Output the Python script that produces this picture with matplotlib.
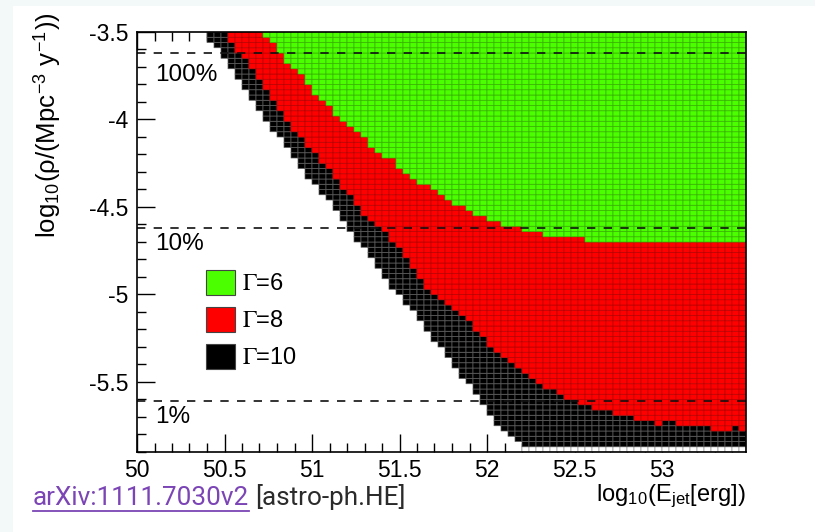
import matplotlib
matplotlib.use('Agg')
import matplotlib.pyplot as plt
import numpy as np
from matplotlib.colors import ListedColormap
from matplotlib.patches import Patch, Rectangle
from matplotlib.lines import Line2D
from matplotlib.ticker import MultipleLocator

plt.rcParams['font.family'] = ['Liberation Sans', 'DejaVu Sans']
plt.rcParams['mathtext.fontset'] = 'stix'

N = np.nan
# histogram binning: log10(E_jet) columns and log10(rho) rows
E_LO, E_HI, N_E = 50.0, 53.48, 87
R_LO, R_HI, N_R = -5.9, -3.5, 80

# lowest excluded log10(rho) per log10(E_jet) column, one list per Lorentz factor
gamma10_limit = [N, N, N, N, N, N, N, N, N, N,
                 -3.56, -3.59, -3.65, -3.71, -3.77, -3.83, -3.89, -3.95, -4.01, -4.07,
                 -4.10, -4.16, -4.22, -4.28, -4.34, -4.37, -4.43, -4.46, -4.52, -4.58,
                 -4.64, -4.70, -4.73, -4.79, -4.85, -4.91, -4.97, -5.00, -5.06, -5.09,
                 -5.15, -5.21, -5.27, -5.30, -5.36, -5.42, -5.48, -5.51, -5.57, -5.63,
                 -5.69, -5.75, -5.78, -5.81, -5.84,
                 -5.87, -5.87, -5.87, -5.87, -5.87, -5.87, -5.87, -5.87, -5.87, -5.87,
                 -5.87, -5.87, -5.87, -5.87, -5.87, -5.87, -5.87, -5.87, -5.87, -5.87,
                 -5.87, -5.87, -5.87, -5.87, -5.87, -5.87, -5.87, -5.87, -5.87, -5.87,
                 -5.87, -5.87]
gamma8_limit = [N, N, N, N, N, N, N, N, N, N, N, N, N,
                -3.56, -3.62, -3.65, -3.71, -3.77, -3.83, -3.89, -3.95, -4.01, -4.07,
                -4.10, -4.16, -4.19, -4.25, -4.28, -4.34, -4.40, -4.43, -4.49, -4.55,
                -4.58, -4.61, -4.64, -4.70, -4.73, -4.79, -4.85, -4.91, -4.97, -5.00,
                -5.03, -5.06, -5.09, -5.12, -5.15, -5.21, -5.24, -5.30, -5.33, -5.36,
                -5.39, -5.42, -5.45, -5.48, -5.51, -5.54, -5.54, -5.57, -5.60, -5.60,
                -5.63, -5.63, -5.66, -5.66, -5.66, -5.69, -5.69, -5.69, -5.72, -5.72,
                -5.72, -5.75, -5.72, -5.72, -5.75, -5.75, -5.75, -5.75, -5.75, -5.78,
                -5.78, -5.78, -5.75, -5.78]
gamma6_limit = [N, N, N, N, N, N, N, N, N, N, N, N, N, N, N, N, N, N,
                -3.53, -3.56, -3.62, -3.68, -3.71, -3.74, -3.80, -3.86, -3.89, -3.92,
                -3.98, -4.01, -4.04, -4.07, -4.10, -4.16, -4.19, -4.22, -4.22, -4.28,
                -4.31, -4.34, -4.37, -4.37, -4.40, -4.43, -4.46, -4.49, -4.49, -4.52,
                -4.55, -4.55, -4.58, -4.58, -4.61, -4.61, -4.61, -4.64, -4.64, -4.64,
                -4.67, -4.67, -4.67, -4.67, -4.67, -4.67,
                -4.70, -4.70, -4.70, -4.70, -4.70, -4.70, -4.70, -4.70, -4.70, -4.70,
                -4.70, -4.70, -4.70, -4.70, -4.70, -4.70, -4.70, -4.70, -4.70, -4.70,
                -4.70, -4.70, -4.70]

legend_labels = [r'$\Gamma$=6', r'$\Gamma$=8', r'$\Gamma$=10']
fraction_levels = [-3.62, -4.62, -5.61]
fraction_labels = ['100%', '10%', '1%']
fraction_label_y = [-3.745, -4.71, -5.70]
x_ticks = [50, 50.5, 51, 51.5, 52, 52.5, 53]
x_ticklabels = ['50', '50.5', '51', '51.5', '52', '52.5', '53']
y_ticks = [-5.5, -5, -4.5, -4, -3.5]
y_ticklabels = ['-5.5', '-5', '-4.5', '-4', '-3.5']

C_GREEN, C_RED, C_BLACK = '#4cff00', '#ff0000', '#000000'

fig = plt.figure(figsize=(8.15, 5.32), dpi=100)
# screenshot tint strips
fig.patches.append(Rectangle((0, 0), 13 / 815, 1, transform=fig.transFigure,
                             facecolor='#f3f8f9', edgecolor='none', zorder=0))
fig.patches.append(Rectangle((0, 1 - 6 / 532), 1, 6 / 532, transform=fig.transFigure,
                             facecolor='#f3f8f9', edgecolor='none', zorder=0))

ax = fig.add_axes([137 / 815, 80 / 532, 609 / 815, 420 / 532])

xe = np.linspace(E_LO, E_HI, N_E + 1)
ye = np.linspace(R_LO, R_HI, N_R + 1)
ylo = ye[:-1]
g10 = np.array(gamma10_limit)
g8 = np.array(gamma8_limit)
g6 = np.array(gamma6_limit)

Z = np.zeros((N_R, N_E), dtype=int)
for k in range(N_E):
    col = np.zeros(N_R, dtype=int)
    if not np.isnan(g10[k]):
        col[ylo >= g10[k] - 1e-6] = 1
    if not np.isnan(g8[k]):
        col[ylo >= g8[k] - 1e-6] = 2
    if not np.isnan(g6[k]):
        col[ylo >= g6[k] - 1e-6] = 3
    if not np.isnan(g10[k]) and g10[k] <= R_LO + (R_HI - R_LO) / N_R + 1e-6:
        col[0] = 4
    Z[:, k] = col

layers = [(4, '#ffffff', '#9a9a9a'), (1, C_BLACK, '#5e5e5e'),
          (2, C_RED, '#b80000'), (3, C_GREEN, '#36b000')]
for lev, fc, ec in layers:
    Zm = np.ma.masked_where(Z != lev, np.ones_like(Z, dtype=float))
    ax.pcolor(xe, ye, Zm, cmap=ListedColormap([fc]), vmin=0, vmax=2,
              edgecolors=ec, linewidths=0.5, zorder=1)

for lvl, lab, ly in zip(fraction_levels, fraction_labels, fraction_label_y):
    ax.axhline(lvl, color='#111111', lw=1.2, dashes=(5, 5), zorder=3)
    ax.text(50.103, ly, lab, fontsize=17.5, va='center', ha='left', zorder=3)

ax.set_xlim(E_LO, E_HI)
ax.set_ylim(R_LO, R_HI)
ax.set_xticks(x_ticks)
ax.set_xticklabels(x_ticklabels)
ax.set_yticks(y_ticks)
ax.set_yticklabels(y_ticklabels)
ax.xaxis.set_minor_locator(MultipleLocator(0.1))
ax.yaxis.set_minor_locator(MultipleLocator(0.1))
ax.tick_params(which='both', direction='in', top=True, right=False, width=1.0,
               labelsize=16.5)
ax.tick_params(which='major', length=13)
ax.tick_params(which='minor', length=6.5)
ax.tick_params(axis='x', pad=5)
ax.tick_params(axis='y', pad=6)
ax.set_axisbelow(True)
for s in ax.spines.values():
    s.set_linewidth(1.2)
    s.set_zorder(4)

ax.set_ylabel(r'log$_{\mathregular{10}}$(ρ/(Mpc$^{\mathregular{-3}}$ y$^{\mathregular{-1}}$))',
              fontsize=18.5, va='center')
ax.yaxis.set_label_coords((47 - 137) / 609, (452 - 125) / 420)
ax.set_xlabel(r'log$_{\mathregular{10}}$(E$_{\mathregular{jet}}$[erg])', fontsize=17,
              ha='right', va='top')
ax.xaxis.set_label_coords(1.0, -(482 - 452) / 420)

handles = [Patch(facecolor=c, edgecolor='#444444', linewidth=0.8)
           for c in (C_GREEN, C_RED, C_BLACK)]
ax.legend(handles, legend_labels, loc='upper left',
          bbox_to_anchor=((206 - 137) / 609, (452 - 270) / 420),
          frameon=False, fontsize=17, borderpad=0, borderaxespad=0,
          handlelength=1.22, handleheight=1.22, handletextpad=0.3,
          labelspacing=0.5)

# source line
r = fig.canvas.get_renderer()
t1 = fig.text(33 / 815, (532 - 505) / 532, 'arXiv:1111.7030v2', fontsize=18.8,
              family=['Roboto', 'DejaVu Sans'], color='#7b45b5', va='baseline')
bb = t1.get_window_extent(renderer=r)
fig.text(bb.x1 / 815 + 6 / 815, (532 - 505) / 532, '[astro-ph.HE]', fontsize=18.8,
         family=['Roboto', 'DejaVu Sans'], color='#2b2b2b', va='baseline')
fig.add_artist(Line2D([bb.x0 / 815, bb.x1 / 815], [(532 - 511) / 532] * 2,
                      transform=fig.transFigure, color='#7b45b5', lw=1.3))

fig.savefig('out.png', dpi=100)
